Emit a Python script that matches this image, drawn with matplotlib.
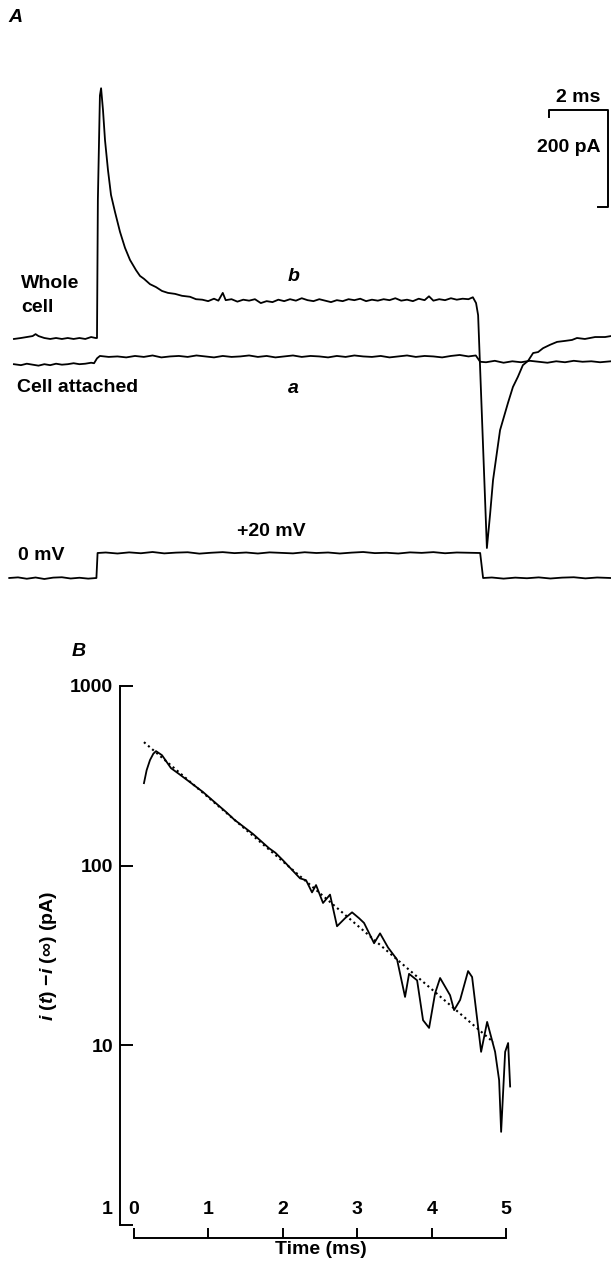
import matplotlib
matplotlib.use('Agg')
import matplotlib.pyplot as plt
import matplotlib.transforms as mtransforms
from matplotlib.ticker import NullLocator

plt.rcParams['font.family'] = ['Liberation Sans', 'DejaVu Sans']
plt.rcParams['font.weight'] = 'bold'
plt.rcParams['axes.labelweight'] = 'bold'
plt.rcParams['mathtext.fontset'] = 'custom'
plt.rcParams['mathtext.it'] = 'Liberation Sans:italic:bold'
plt.rcParams['mathtext.rm'] = 'Liberation Sans:bold'

# ---- A: whole-cell (b) and cell-attached (a) currents, pA vs ms ----
b_t = [-2.84, -2.6, -2.4, -2.2, -2.1, -2.0, -1.8, -1.6, -1.4, -1.2, -1.0, -0.8, -0.6, -0.4, -0.2, -0.05,
       0.0, 0.03, 0.10, 0.14, 0.205, 0.274, 0.376, 0.479, 0.615, 0.786, 0.957, 1.128, 1.333, 1.47,
       1.607, 1.812, 2.017, 2.222, 2.427, 2.667, 2.906, 3.18, 3.385,
       3.6, 3.8, 4.0, 4.15, 4.3, 4.4, 4.6, 4.8, 5.0, 5.2, 5.4, 5.6, 5.8, 6.0, 6.2, 6.4, 6.6, 6.8,
       7.0, 7.2, 7.4, 7.6, 7.8, 8.0, 8.2, 8.4, 8.6, 8.8, 9.0, 9.2, 9.4, 9.6, 9.8, 10.0, 10.2, 10.4,
       10.6, 10.8, 11.0, 11.2, 11.35, 11.5, 11.7, 11.9, 12.1, 12.3, 12.5, 12.7, 12.85,
       12.96, 13.03, 13.33, 13.44, 13.54, 13.78, 14.05, 14.22, 14.39, 14.56, 14.74, 14.91, 15.08,
       15.25, 15.49, 15.73, 16.0, 16.24, 16.41, 16.68, 17.03, 17.37, 17.57]
b_pA = [-2, 0, 2, 4, 8, 4, 0, -2, 0, -2, 0, -2, 0, -2, 2, 0,
        0, 285, 500, 515, 470, 408, 346, 295, 260, 219, 186, 161, 140, 128,
        122, 111, 105, 97, 93, 91, 87, 85, 80,
        79, 76, 81, 77, 93, 78, 80, 75, 79, 77, 80, 72, 76, 74, 79, 76, 80, 77,
        82, 78, 76, 80, 77, 74, 78, 76, 80, 78, 81, 76, 79, 77, 80, 78, 82, 77,
        79, 76, 81, 78, 86, 77, 80, 78, 82, 79, 81, 80, 84,
        72, 47, -433, -363, -293, -190, -134, -101, -80, -56, -47, -31, -29,
        -21, -14, -8, -6, -4, 0, -2, 2, 2, 4]

a_t = [-2.84, -2.6, -2.4, -2.2, -2.0, -1.8, -1.6, -1.4, -1.2, -1.0, -0.8, -0.6, -0.4, -0.2, -0.1,
       0.0, 0.1, 0.4, 0.7, 1.0, 1.3, 1.6, 1.9, 2.2, 2.5, 2.8, 3.1, 3.4, 3.7, 4.0, 4.3, 4.6, 4.9,
       5.2, 5.5, 5.8, 6.1, 6.4, 6.7, 7.0, 7.3, 7.6, 7.9, 8.2, 8.5, 8.8, 9.1, 9.4, 9.7, 10.0,
       10.3, 10.6, 10.9, 11.2, 11.5, 11.8, 12.1, 12.4, 12.7, 12.95,
       13.1, 13.3, 13.6, 13.9, 14.2, 14.5, 14.8, 15.1, 15.4, 15.7, 16.0, 16.3, 16.6, 16.9,
       17.2, 17.57]
a_pA = [0, -2, 1, -1, -3, 0, -2, 1, -1, 0, 2, 0, 1, 3, 2,
        12, 17, 15, 16, 14, 17, 15, 18, 14, 16, 17, 15, 18, 16, 14, 17, 15, 16,
        18, 15, 17, 14, 16, 18, 15, 17, 16, 14, 17, 15, 18, 16, 15, 17, 14,
        16, 18, 15, 17, 16, 14, 17, 19, 16, 18,
        5, 4, 7, 3, 6, 4, 7, 5, 3, 6, 4, 7, 5, 6,
        4, 6]
a_offset = -54          # cell-attached trace drawn below the whole-cell one

# command potential (mV)
v_t = [-3.0, -2.7, -2.4, -2.1, -1.8, -1.5, -1.2, -0.9, -0.6, -0.3, -0.02,
       0.02, 0.3, 0.7, 1.1, 1.5, 1.9, 2.3, 2.7, 3.1, 3.5, 3.9, 4.3, 4.7, 5.1, 5.5, 5.9, 6.3,
       6.7, 7.1, 7.5, 7.9, 8.3, 8.7, 9.1, 9.5, 9.9, 10.3, 10.7, 11.1, 11.5, 11.9, 12.3, 12.7, 13.1,
       13.2, 13.5, 13.9, 14.3, 14.7, 15.1, 15.5, 15.9, 16.3, 16.7, 17.1, 17.57]
v_mV = [0, 0.5, -0.6, 0.4, -0.8, 0.3, 0.6, -0.4, 0.2, -0.5, 0,
        20, 20.4, 19.6, 20.5, 19.8, 20.8, 19.7, 20.3, 20.6, 19.5, 20.2, 20.7, 19.9, 20.4, 19.6, 20.5, 20.1,
        19.7, 20.6, 20.0, 20.4, 19.6, 20.3, 20.8, 19.9, 20.2, 19.6, 20.5, 20.1, 20.7, 19.8, 20.4, 20.2, 20,
        0, 0.4, -0.5, 0.3, -0.2, 0.5, -0.4, 0.3, 0.6, -0.3, 0.4, 0]

# ---- B: i(t) - i(inf) on log scale ----
dec_t = [0.134, 0.17, 0.215, 0.26, 0.296, 0.376, 0.497, 0.6, 0.75, 0.927, 1.05, 1.237, 1.35,
         1.478, 1.6, 1.815, 1.9, 2.003, 2.231, 2.312, 2.392, 2.446, 2.54, 2.634, 2.728, 2.836,
         2.93, 3.024, 3.091, 3.226, 3.306, 3.414, 3.535, 3.642, 3.696, 3.804, 3.884, 3.965,
         4.046, 4.113, 4.247, 4.301, 4.382, 4.489, 4.543, 4.664, 4.745, 4.852, 4.906, 4.933,
         4.987, 5.027, 5.054]
dec_pA = [288, 340, 387, 420, 434, 412, 349, 325, 292, 257, 232, 199, 180,
          164, 150, 125, 118, 107, 85, 83, 71, 78, 62, 69, 46, 51,
          55, 51, 48, 37, 42, 35, 30, 18.6, 25, 23, 13.8, 12.5,
          19.5, 23.7, 19, 15.7, 17.9, 25.9, 24, 9.2, 13.5, 9.2, 6.4, 3.3,
          9.2, 10.3, 5.9]
fit_t = [0.134, 4.83]
fit_pA = [487, 10.4]

W, H = 611, 1264
fig = plt.figure(figsize=(W / 100, H / 100), dpi=100)
fs = 14


def box(x0, y0, x1, y1):
    return [x0 / W, 1 - y1 / H, (x1 - x0) / W, (y1 - y0) / H]


def label(x, y, s, **kw):
    kw.setdefault('fontsize', fs)
    kw.setdefault('va', 'center')
    fig.text(x / W, 1 - y / H, s, **kw)


lw = 1.3
axA = fig.add_axes(box(0, 60, 611, 600))
axA.set_xlim(-3.316, 17.573)
axA.set_ylim(-540.2, 573.2)
axA.axis('off')
axA.plot(b_t, b_pA, color='k', lw=lw)
axA.plot(a_t, [v + a_offset for v in a_pA], color='k', lw=lw)

axV = fig.add_axes(box(0, 60, 611, 600))
axV.set_xlim(-3.316, 17.573)
axV.set_ylim(-17.6, 414.4)
axV.axis('off')
axV.plot(v_t, v_mV, color='k', lw=lw)

# calibration bars
sb_x, sb_y = 15.47, 470
axA.plot([sb_x, sb_x, sb_x + 2, sb_x + 2, sb_x + 1.66],
         [sb_y - 14, sb_y, sb_y, sb_y - 200, sb_y - 200], color='k', lw=1.4)

label(8, 17, 'A', fontstyle='italic')
label(578, 97, '2 ms', ha='center')
label(601, 147, '200 pA', ha='right')
label(21, 283, 'Whole', ha='left')
label(21, 308, 'cell', ha='left')
label(294, 276, 'b', ha='center', fontstyle='italic')
label(17, 387, 'Cell attached', ha='left')
label(293, 388, 'a', ha='center', fontstyle='italic')
label(271, 532, '+20 mV', ha='center')
label(18, 555, '0 mV', ha='left')
label(72, 652, 'B', fontstyle='italic')

axB = fig.add_axes(box(120, 686, 521, 1225))
axB.set_yscale('log')
axB.set_ylim(1, 1000)
axB.set_xlim(-0.188, 5.2)
axB.plot(dec_t, dec_pA, color='k', lw=lw)
axB.plot(fit_t, fit_pA, color='k', lw=1.5, ls=(0, (1, 1.6)))

for s in ('top', 'right'):
    axB.spines[s].set_visible(False)
for s in ('left', 'bottom'):
    axB.spines[s].set_linewidth(1.4)
axB.spines['bottom'].set_position(('outward', 13 * 0.72))
axB.spines['bottom'].set_bounds(0, 5)

axB.set_xticks([0, 1, 2, 3, 4, 5])
axB.set_xticklabels(['0', '1', '2', '3', '4', '5'])
axB.set_yticks([1, 10, 100, 1000])
axB.set_yticklabels(['1', '10', '100', '1000'])
axB.yaxis.set_minor_locator(NullLocator())
axB.tick_params(axis='x', direction='in', length=7.5, width=1.4, pad=-27, labelsize=fs)
axB.tick_params(axis='y', direction='in', length=9, width=1.4, pad=5, labelsize=fs)
one = axB.yaxis.get_major_ticks()[0].label1
one.set_transform(one.get_transform() +
                  mtransforms.ScaledTranslation(0, 0.18, fig.dpi_scale_trans))

axB.set_xlabel('Time (ms)', fontsize=fs, labelpad=2)
axB.set_ylabel('$i$ ($t$) \u2212$i$ (\u221e) (pA)', fontsize=fs, labelpad=8)

fig.savefig('out.png', dpi=100)
